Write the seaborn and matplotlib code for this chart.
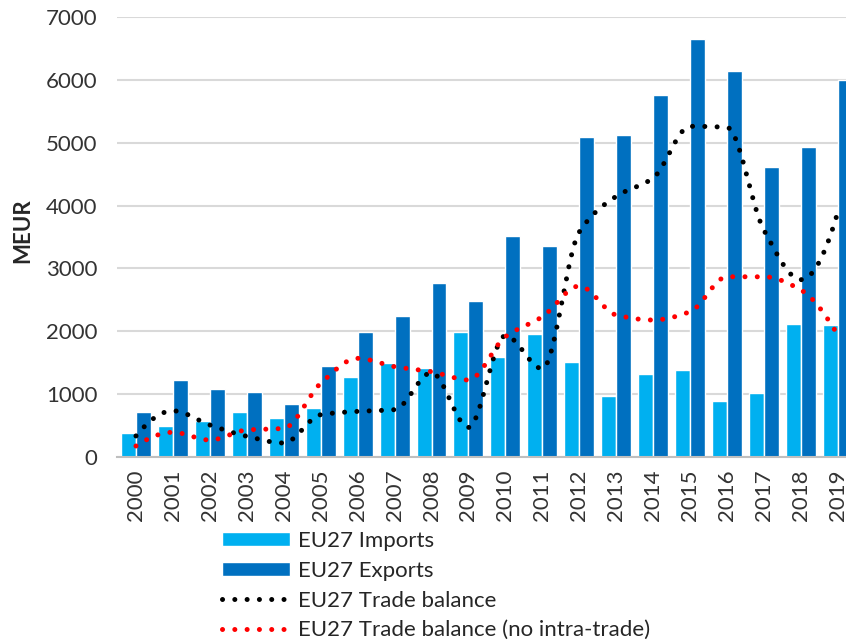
import numpy as np
import pandas as pd
import matplotlib
matplotlib.use("Agg")
import matplotlib.pyplot as plt
from matplotlib.patches import Patch
from matplotlib.lines import Line2D
import seaborn as sns

# values (MEUR)
years = [str(y) for y in range(2000, 2020)]
imports = [380, 490, 578, 711, 615, 775, 1268, 1490, 1421, 1994,
           1586, 1952, 1506, 975, 1320, 1384, 896, 1013, 2116, 2100]
exports = [715, 1225, 1087, 1040, 838, 1448, 1994, 2243, 2763, 2482,
           3516, 3357, 5086, 5122, 5759, 6645, 6141, 4619, 4937, 5998]
balance = [335, 735, 509, 329, 223, 673, 726, 753, 1342, 470,
           1930, 1405, 3580, 4147, 4439, 5261, 5245, 3606, 2821, 3898]
balance_extra = [175, 393, 270, 430, 456, 1172, 1570, 1437, 1357, 1225,
                 1914, 2232, 2720, 2259, 2179, 2312, 2868, 2868, 2657, 1941]

c_imp = "#00B0F0"
c_exp = "#0070C0"


def smooth(ys, n=30):
    """Monotone cubic (Fritsch-Carlson) drawing curve through the points."""
    y = np.asarray(ys, dtype=float)
    d = np.diff(y)
    m = np.zeros_like(y)
    for k in range(1, len(y) - 1):
        if d[k - 1] * d[k] > 0:
            m[k] = 2 / (1 / d[k - 1] + 1 / d[k])
    for k, (a, b) in [(0, (d[0], d[1])), (len(y) - 1, (d[-1], d[-2]))]:
        s = (3 * a - b) / 2
        if np.sign(s) != np.sign(a):
            s = 0
        elif np.sign(a) != np.sign(b) and abs(s) > abs(3 * a):
            s = 3 * a
        m[k] = s
    t = np.linspace(0, 1, n)
    xs_out, ys_out = [], []
    for k in range(len(y) - 1):
        tt = t if k == 0 else t[1:]
        h00 = 2 * tt ** 3 - 3 * tt ** 2 + 1
        h10 = tt ** 3 - 2 * tt ** 2 + tt
        h01 = -2 * tt ** 3 + 3 * tt ** 2
        h11 = tt ** 3 - tt ** 2
        xs_out.append(k + tt)
        ys_out.append(h00 * y[k] + h10 * m[k] + h01 * y[k + 1] + h11 * m[k + 1])
    return np.concatenate(xs_out), np.concatenate(ys_out)


df = pd.DataFrame({"year": years * 2,
                   "value": imports + exports,
                   "flow": ["EU27 Imports"] * len(years) + ["EU27 Exports"] * len(years)})

sns.set_theme(style="white")
plt.rcParams["font.family"] = ["Lato", "DejaVu Sans"]

fig = plt.figure(figsize=(8.46, 6.43), dpi=100)
ax = fig.add_axes([117 / 846, 1 - 457 / 643, 1 - 117 / 846, 440 / 643])

sns.barplot(data=df, x="year", y="value", hue="flow", palette=[c_imp, c_exp],
            width=0.81, gap=0, saturation=1, ax=ax, legend=False, zorder=2)

dot_style = dict(linewidth=3.6, linestyle=(0, (0.01, 2.45)), dash_capstyle="round", zorder=3)
bx, by = smooth(balance)
ax.plot(bx, by, color="black", **dot_style)
rx, ry = smooth(balance_extra)
ax.plot(rx, ry, color="#FF0000", **dot_style)

ax.set_xlim(-0.514, 19.22)
ax.set_ylim(0, 7000)
ax.set_yticks(range(0, 7001, 1000))
ax.yaxis.grid(True, color="#D9D9D9", linewidth=1.5, zorder=0)
ax.set_axisbelow(True)
for s in ["top", "right", "left"]:
    ax.spines[s].set_visible(False)
ax.spines["bottom"].set_color("#BFBFBF")
ax.spines["bottom"].set_linewidth(1.5)
ax.spines["bottom"].set_zorder(4)

ax.tick_params(axis="y", length=0, pad=14, labelsize=16, labelcolor="#333333")
ax.tick_params(axis="x", length=0, pad=9, labelsize=16, labelcolor="#333333", rotation=90)
ax.set_xlabel("")
ax.set_ylabel("MEUR", fontsize=16, fontweight="bold", color="#262626")
ax.yaxis.set_label_coords(-0.115, 0.514)

handles = [Patch(facecolor=c_imp, label="EU27 Imports"),
           Patch(facecolor=c_exp, label="EU27 Exports"),
           Line2D([], [], color="black", label="EU27 Trade balance", **dot_style),
           Line2D([], [], color="#FF0000", label="EU27 Trade balance (no intra-trade)", **dot_style)]
fig.legend(handles=handles, loc="upper left", bbox_to_anchor=(222 / 846, 1 - 531 / 643),
           frameon=False, borderpad=0, borderaxespad=0, handlelength=3.05, handleheight=0.63,
           handletextpad=0.36, labelspacing=0.44,
           prop={"family": ["Lato", "DejaVu Sans"], "size": 16}, labelcolor="#262626")

fig.savefig("out.png", dpi=100)
